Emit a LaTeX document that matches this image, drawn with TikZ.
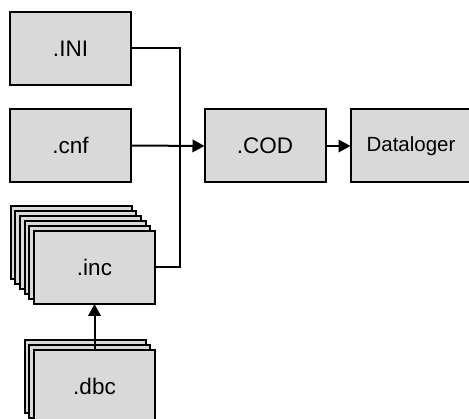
\documentclass[tikz,border=0pt]{standalone}
\usepackage{fontspec}
\setmainfont{Liberation Sans}
\usetikzlibrary{arrows.meta}
\definecolor{boxfill}{RGB}{217,217,217}
\tikzset{
  filebox/.style={draw=black, fill=boxfill, line width=2pt, minimum width=121pt,
    minimum height=73pt, inner sep=0pt, outer sep=0pt, font=\fontsize{22.5}{24}\selectfont},
  link/.style={line width=2pt},
  flow/.style={line width=2pt, -{Triangle[length=12pt,width=12.5pt]}}
}
\begin{document}
\begin{tikzpicture}[x=1pt,y=-1pt]
\path[use as bounding box, clip] (0,0) rectangle (469,419);
% configuration files
\node[filebox] (ini) at (70.5,48.5) {.INI};
\node[filebox] (cnf) at (70.5,145.5) {.cnf};
% stack of include files
\foreach \k in {5,4,...,1}
  \node[filebox] (inc\k) at ({94.5-4.7*\k},{267.5-4.9*\k}) {};
\node[filebox] (inc) at (94.5,267.5) {.inc};
% stack of database files
\foreach \k in {2,1}
  \node[filebox] (dbc\k) at ({94.5-4.7*\k},{386.5-4.9*\k}) {};
\node[filebox] (dbc) at (94.5,386.5) {.dbc};
% compiled output and logger
\node[filebox] (cod) at (265,146) {.COD};
\node[filebox, font=\fontsize{20.5}{22}\selectfont] (log) at (411,146) {Dataloger};
% connectors
\coordinate (bus) at (180,0);
\draw[link] (ini.east) -- (ini.east -| bus) -- (inc.east -| bus) -- (inc.east);
\draw[flow] (cnf.east) -- (cod.west);
\draw[flow] (cod.east) -- (log.west);
\draw[flow] (dbc.north) -- (inc.south);
\end{tikzpicture}
\end{document}
